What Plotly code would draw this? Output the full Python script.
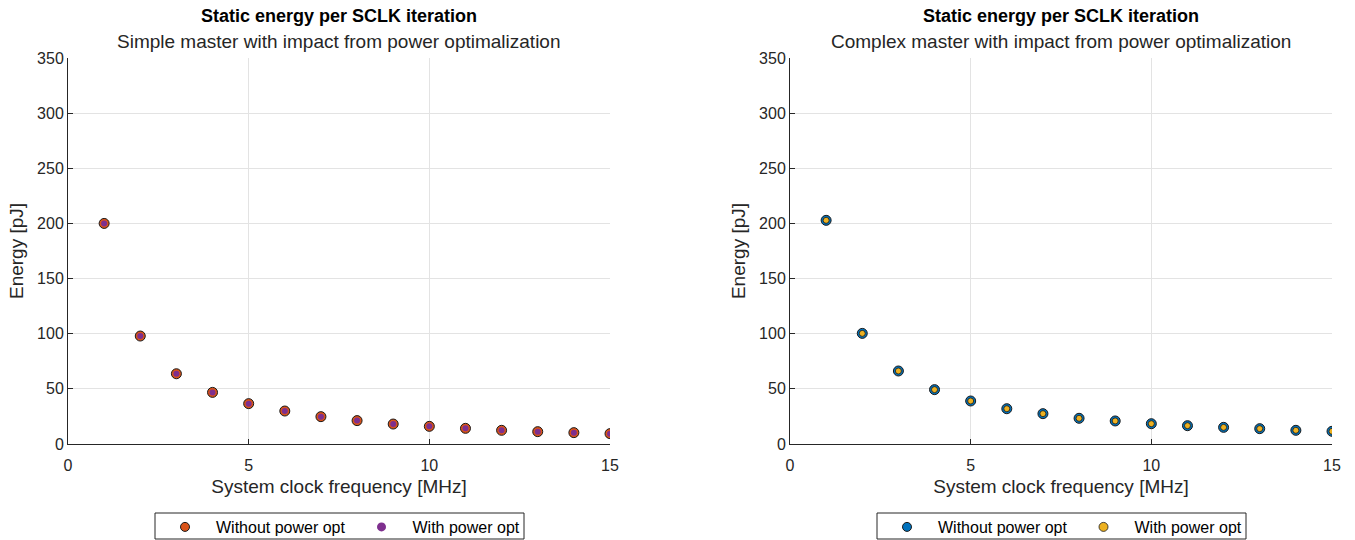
import plotly.graph_objects as go

freq = [1, 2, 3, 4, 5, 6, 7, 8, 9, 10, 11, 12, 13, 14, 15]
simple_without = [200, 97.9, 63.7, 46.8, 36.6, 29.9, 24.8, 21.2, 18.1, 16.0, 14.2, 12.4, 11.2, 10.3, 9.4]
simple_with = [200, 97.9, 63.7, 46.8, 36.6, 29.9, 24.8, 21.2, 18.1, 16.0, 14.2, 12.4, 11.2, 10.3, 9.4]
complex_without = [202.8, 100.3, 66.2, 49.3, 39.0, 32.0, 27.5, 23.3, 20.9, 18.4, 16.6, 15.1, 13.9, 12.4, 11.5]
complex_with = [202.8, 100.3, 66.2, 49.3, 39.0, 32.0, 27.5, 23.3, 20.9, 18.4, 16.6, 15.1, 13.9, 12.4, 11.5]

title_main = "Static energy per SCLK iteration"
sub_left = "Simple master with impact from power optimalization"
sub_right = "Complex master with impact from power optimalization"
x_label = "System clock frequency [MHz]"
y_label = "Energy [pJ]"
names = ["Without power opt", "With power opt"]

FONT = "Liberation Sans, Arial, sans-serif"
TXT = "#262626"
EDGE = "#1a1a1a"

styles = {
    "sw": dict(color="#D95319", line=dict(color=EDGE, width=1)),
    "sp": dict(color="#7E2F8E", line=dict(color="#7E2F8E", width=0)),
    "cw": dict(color="#0072BD", line=dict(color=EDGE, width=1)),
    "cp": dict(color="#EDB120", line=dict(color=EDGE, width=0.8)),
}

fig = go.Figure()

series = [
    (simple_without, "sw", 10, "x", "y", "legend", names[0]),
    (simple_with, "sp", 6, "x", "y", "legend", names[1]),
    (complex_without, "cw", 10, "x2", "y2", "legend2", names[0]),
    (complex_with, "cp", 6, "x2", "y2", "legend2", names[1]),
]
for vals, key, size, xa, ya, lg, nm in series:
    fig.add_trace(go.Scatter(x=freq, y=vals, mode="markers", name=nm, showlegend=False,
                             marker=dict(styles[key], size=size), xaxis=xa, yaxis=ya, hoverinfo="x+y"))
# legend entries (no data, only legend symbols)
for vals, key, size, xa, ya, lg, nm in series:
    fig.add_trace(go.Scatter(x=[None], y=[None], mode="markers", name=nm, showlegend=True,
                             marker=dict(styles[key], size=9), xaxis=xa, yaxis=ya, legend=lg))

W, H = 1355, 540
left_dom = [68 / W, 610 / W]
right_dom = [790 / W, 1332 / W]
ydom = [1 - 444 / H, 1 - 58 / H]

axis_common = dict(
    showline=True, linecolor=TXT, linewidth=1, mirror=False,
    ticks="inside", ticklen=5, tickcolor=TXT,
    showgrid=True, gridcolor="#e3e3e3", gridwidth=1,
    zeroline=False, automargin=False,
    tickfont=dict(family=FONT, size=16, color=TXT),
    title_font=dict(family=FONT, size=19, color=TXT),
)

xcommon = dict(axis_common, range=[0, 15], tickvals=[0, 5, 10, 15], title_text=x_label,
               title_standoff=6, ticklabelstandoff=7)
ycommon = dict(axis_common, range=[0, 350], tickvals=[0, 50, 100, 150, 200, 250, 300, 350], title_text=y_label, title_standoff=8)

legend_common = dict(
    orientation="h", borderwidth=0, bgcolor="rgba(0,0,0,0)",
    font=dict(family=FONT, size=16, color="black"),
    xanchor="center", yanchor="middle", itemwidth=52,
    itemsizing="trace", tracegroupgap=0,
)

boxes = [(155, 524), (877, 1246)]

fig.update_layout(
    width=W, height=H,
    margin=dict(l=0, r=0, t=0, b=0, autoexpand=False),
    paper_bgcolor="white", plot_bgcolor="white",
    showlegend=True,
    xaxis=dict(xcommon, domain=left_dom, anchor="y"),
    yaxis=dict(ycommon, domain=ydom, anchor="x"),
    xaxis2=dict(xcommon, domain=right_dom, anchor="y2"),
    yaxis2=dict(ycommon, domain=ydom, anchor="x2"),
    legend=dict(legend_common, x=(boxes[0][0] + boxes[0][1]) / 2 / W, y=1 - 527 / H),
    legend2=dict(legend_common, x=(boxes[1][0] + boxes[1][1]) / 2 / W, y=1 - 527 / H),
)

for bx0, bx1 in boxes:
    fig.add_shape(type="rect", xref="paper", yref="paper", x0=bx0 / W, x1=bx1 / W,
                  y0=1 - 539 / H, y1=1 - 513 / H, line=dict(color=TXT, width=1),
                  fillcolor="white", layer="below")

for dom, sub in [(left_dom, sub_left), (right_dom, sub_right)]:
    cx = (dom[0] + dom[1]) / 2
    fig.add_annotation(x=cx, y=1 - 16 / H, xref="paper", yref="paper", text="<b>" + title_main + "</b>",
                       showarrow=False, font=dict(family=FONT, size=18, color="black"),
                       xanchor="center", yanchor="middle")
    fig.add_annotation(x=cx, y=1 - 42 / H, xref="paper", yref="paper", text=sub,
                       showarrow=False, font=dict(family=FONT, size=19, color=TXT),
                       xanchor="center", yanchor="middle")

fig.write_html("out.html")
